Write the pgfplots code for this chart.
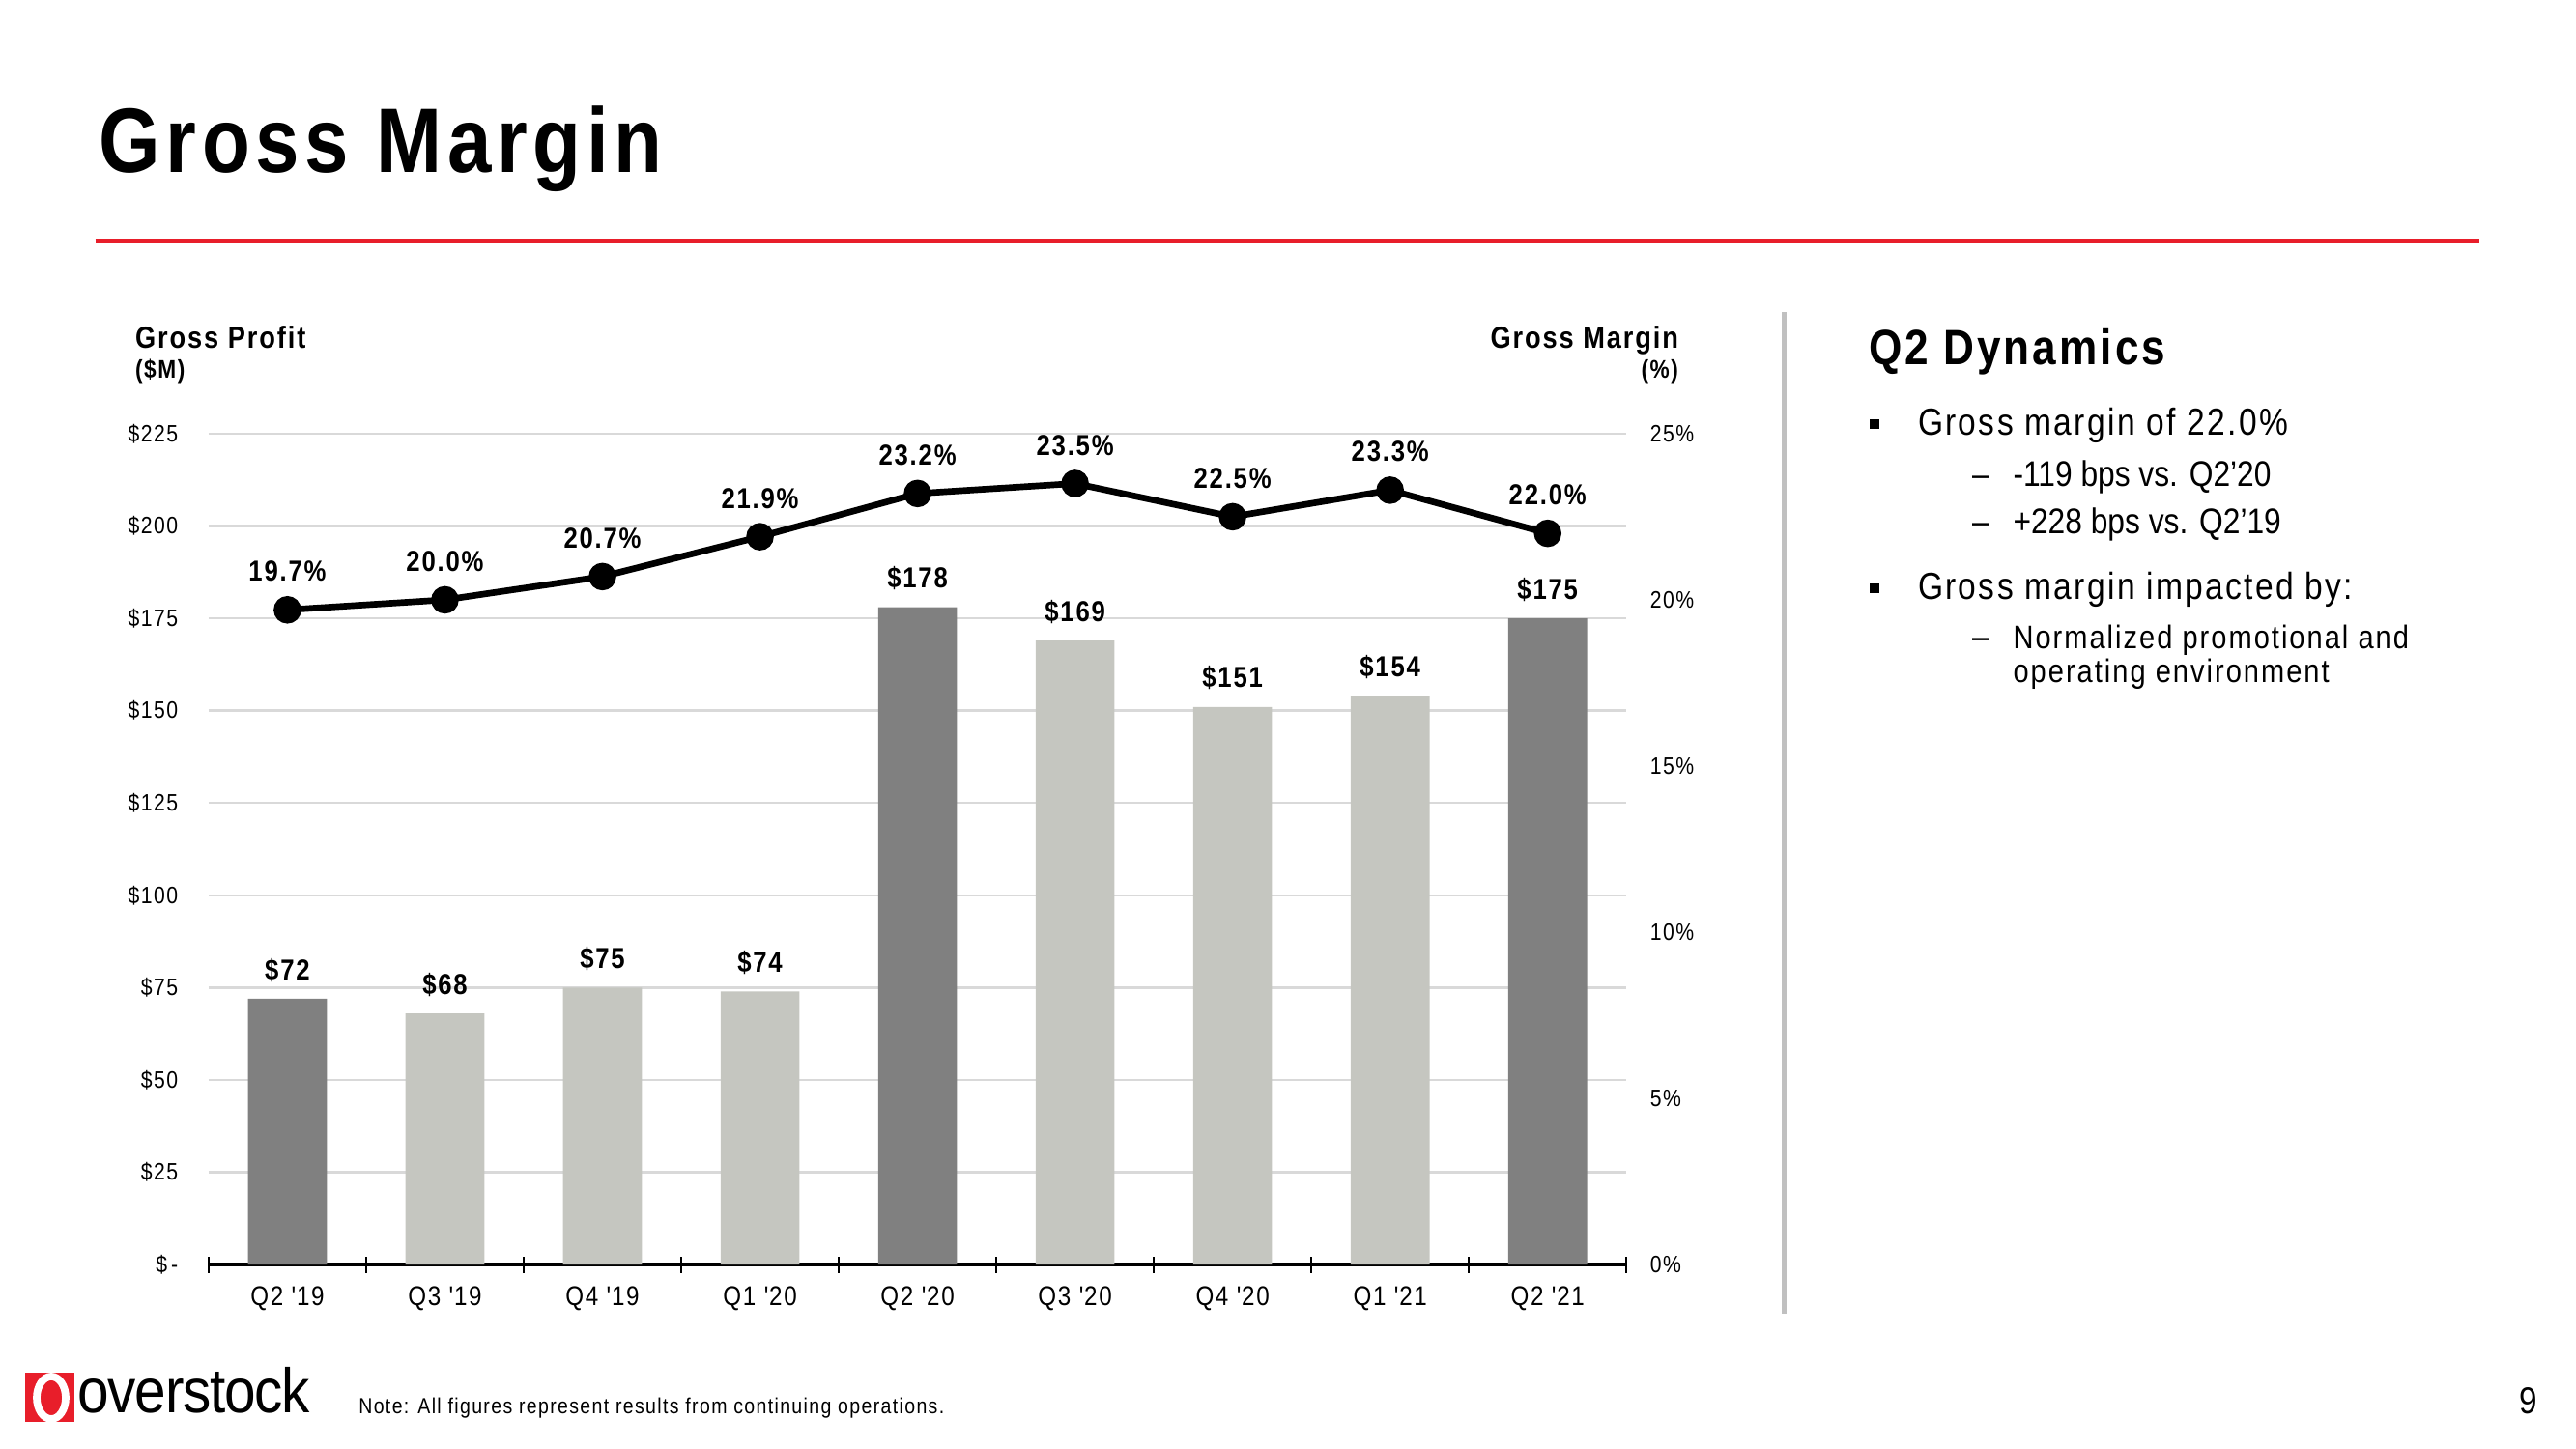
\documentclass[border=0pt]{standalone}
\usepackage{fontspec}
\usepackage{pgfplots}
\pgfplotsset{compat=1.18}
\setmainfont{Liberation Sans}[FakeStretch=0.86,LetterSpace=6]
\newfontfamily\plainf{Liberation Sans}[FakeStretch=0.86]
\newfontfamily\logof{Liberation Sans}[FakeStretch=0.9,LetterSpace=-2]
\definecolor{gmred}{RGB}{232,30,42}
\definecolor{bardark}{RGB}{128,128,128}
\definecolor{barlight}{RGB}{197,198,192}
\definecolor{gridc}{RGB}{217,217,217}
\definecolor{sepc}{RGB}{192,192,192}
\begin{document}
\begin{tikzpicture}[x=1cm,y=1cm]
\path[use as bounding box] (0,0) rectangle (26.656,-14.994);
% title
\node[anchor=base west, inner sep=0] at (1.02,-1.785) {\fontsize{27}{30}\selectfont\bfseries Gross Margin};
\draw[gmred, line width=1.45pt] (0.986,-2.499) -- (25.653,-2.499);
% axis headers
\node[anchor=base west, inner sep=0] at (1.394,-3.6) {\fontsize{9}{10}\selectfont\bfseries Gross Profit};
\node[anchor=base west, inner sep=0] at (1.394,-3.91) {\fontsize{7.5}{9}\selectfont\bfseries (\$M)};
\node[anchor=base east, inner sep=0] at (17.374,-3.6) {\fontsize{9}{10}\selectfont\bfseries Gross Margin};
\node[anchor=base east, inner sep=0] at (17.374,-3.91) {\fontsize{7.5}{9}\selectfont\bfseries (\%)};

\begin{axis}[
  at={(2.159cm,-13.09cm)}, anchor=south west,
  scale only axis, width=14.671cm, height=8.602cm,
  xmin=-0.5, xmax=8.5, ymin=0, ymax=225,
  axis x line*=bottom, axis y line*=left,
  y axis line style={draw=none},
  x axis line style={black, line width=1pt},
  ytick={0,25,...,225},
  yticklabels={\$\,-,\$25,\$50,\$75,\$100,\$125,\$150,\$175,\$200,\$225},
  ytick style={draw=none},
  yticklabel style={font=\fontsize{7}{8}\selectfont, xshift=-5.5pt},
  ymajorgrids, grid style={gridc, line width=0.7pt},
  xtick={0,...,8},
  xticklabels={Q2 \textquotesingle19,Q3 \textquotesingle19,Q4 \textquotesingle19,Q1 \textquotesingle20,Q2 \textquotesingle20,Q3 \textquotesingle20,Q4 \textquotesingle20,Q1 \textquotesingle21,Q2 \textquotesingle21},
  xticklabel style={font=\fontsize{8}{9}\selectfont, yshift=-3pt},
  major tick length=0pt,
  minor xtick={-0.5,0.5,...,8.5},
  minor tick length=4.8pt,
  tick align=center,
  every minor x tick/.append style={black, line width=0.6pt},
  clip=false,
]
\addplot[ybar, bar width=0.816cm, bar shift=0pt, fill=bardark, draw=none,
  nodes near coords, point meta=explicit symbolic,
  every node near coord/.append style={font=\bfseries\fontsize{8.5}{10}\selectfont, yshift=1.5pt, black}]
  coordinates {(0,72) [\$72] (4,178) [\$178] (8,175) [\$175]};
\addplot[ybar, bar width=0.816cm, bar shift=0pt, fill=barlight, draw=none,
  nodes near coords, point meta=explicit symbolic,
  every node near coord/.append style={font=\bfseries\fontsize{8.5}{10}\selectfont, yshift=1.5pt, black}]
  coordinates {(1,68) [\$68] (2,75) [\$75] (3,74) [\$74] (5,169) [\$169] (6,151) [\$151] (7,154) [\$154]};
\end{axis}

\begin{axis}[
  at={(2.159cm,-13.09cm)}, anchor=south west,
  scale only axis, width=14.671cm, height=8.602cm,
  xmin=-0.5, xmax=8.5, ymin=0, ymax=25,
  axis x line=none, axis y line*=right,
  y axis line style={draw=none},
  ytick={0,5,...,25},
  yticklabels={0\%,5\%,10\%,15\%,20\%,25\%},
  ytick style={draw=none},
  yticklabel style={font=\fontsize{7}{8}\selectfont, xshift=3.5pt},
  clip=false,
]
\addplot[black, line width=1.9pt, mark=*, mark size=3.1pt, mark options={fill=black},
  nodes near coords, point meta=explicit symbolic,
  every node near coord/.append style={font=\bfseries\fontsize{8.5}{10}\selectfont, yshift=4pt}]
  coordinates {(0,19.7) [19.7\%] (1,20.0) [20.0\%] (2,20.7) [20.7\%] (3,21.9) [21.9\%] (4,23.2) [23.2\%] (5,23.5) [23.5\%] (6,22.5) [22.5\%] (7,23.3) [23.3\%] (8,22.0) [22.0\%]};
\end{axis}

% separator
\draw[sepc, line width=1.2pt] (18.462,-3.23) -- (18.462,-13.6);
% right panel
\node[anchor=base west, inner sep=0] at (19.33,-3.774) {\fontsize{14.6}{16}\selectfont\bfseries Q2 Dynamics};
\fill (19.347,-4.436) rectangle (19.447,-4.336);
\node[anchor=base west, inner sep=0] at (19.84,-4.505) {\fontsize{11.1}{13}\selectfont Gross margin of 22.0\%};
\node[anchor=base west, inner sep=0] at (20.4,-5.032) {\plainf\fontsize{10.5}{12}\selectfont –};
\node[anchor=base west, inner sep=0] at (20.825,-5.032) {\plainf\fontsize{10.5}{12}\selectfont -119 bps vs. Q2’20};
\node[anchor=base west, inner sep=0] at (20.4,-5.525) {\plainf\fontsize{10.5}{12}\selectfont –};
\node[anchor=base west, inner sep=0] at (20.825,-5.525) {\plainf\fontsize{10.5}{12}\selectfont +228 bps vs. Q2’19};
\fill (19.347,-6.136) rectangle (19.447,-6.036);
\node[anchor=base west, inner sep=0] at (19.84,-6.205) {\fontsize{11.1}{13}\selectfont Gross margin impacted by:};
\node[anchor=base west, inner sep=0] at (20.4,-6.715) {\plainf\fontsize{10.5}{12}\selectfont –};
\node[anchor=base west, inner sep=0] at (20.825,-6.715) {\fontsize{9.6}{11}\selectfont Normalized promotional and};
\node[anchor=base west, inner sep=0] at (20.825,-7.06) {\fontsize{9.6}{11}\selectfont operating environment};
% logo
\fill[gmred] (0.255,-14.212) rectangle (0.765,-14.722);
\draw[white, line width=2.2pt] (0.53,-14.467) ellipse (0.15 and 0.22);
\node[anchor=base west, inner sep=0] at (0.8,-14.62) {\logof\fontsize{18.5}{20}\selectfont overstock};
\node[anchor=base west, inner sep=0] at (3.706,-14.637) {\fontsize{6.45}{7.5}\selectfont Note: All figures represent results from continuing operations.};
\node[anchor=base east, inner sep=0] at (26.265,-14.637) {\plainf\fontsize{11}{13}\selectfont 9};
\end{tikzpicture}
\end{document}
